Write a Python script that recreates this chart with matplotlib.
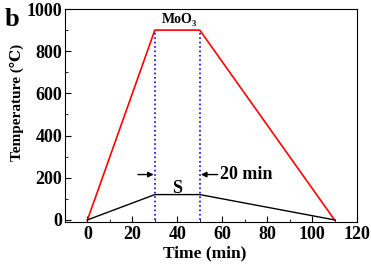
import numpy as np
import matplotlib.pyplot as plt
from matplotlib.ticker import MultipleLocator

plt.rcParams['font.family'] = ['Liberation Serif', 'DejaVu Serif']
plt.rcParams['font.weight'] = 'bold'

# profiles
time_moo3 = [0, 30, 50, 110]
temp_moo3 = [0, 900, 900, 0]
time_s = [0, 30, 50, 110]
temp_s = [0, 120, 120, 0]
hold_start, hold_end = 30, 50
hold_top = 900

fig = plt.figure(figsize=(3.71, 2.65), dpi=100)
ax = fig.add_axes([65/371, 1 - 222/265, (357-65)/371, (222-9)/265])

ax.plot(time_moo3, temp_moo3, color='red', lw=1.2)
ax.plot(time_s, temp_s, color='black', lw=1.0)
ax.plot([hold_start, hold_start], [0, hold_top], color='blue', ls=':', lw=1.2)
ax.plot([hold_end, hold_end], [0, hold_top], color='blue', ls=':', lw=1.2)

arrow = dict(arrowstyle='-|>', color='black', lw=1, mutation_scale=8,
             shrinkA=0, shrinkB=0)
ax.annotate('', xy=(hold_start - 0.5, 215), xytext=(22.5, 215), arrowprops=arrow)
ax.annotate('', xy=(hold_end + 0.5, 215), xytext=(58, 215), arrowprops=arrow)
ax.text(59, 215, '20 min', fontsize=13, fontweight='bold', va='center', ha='left')
ax.text(40, 150, 'S', fontsize=13, fontweight='bold', ha='center', va='center')
ax.text(40, 918, 'MoO', fontsize=10, fontweight='bold', ha='center', va='bottom')
ax.text(46.3, 912, '3', fontsize=6, fontweight='bold', ha='left', va='bottom')

ax.set_xlim(-10, 120)
ax.set_ylim(-10, 1000)
ax.xaxis.set_major_locator(MultipleLocator(20))
ax.xaxis.set_minor_locator(MultipleLocator(10))
ax.yaxis.set_major_locator(MultipleLocator(200))
ax.yaxis.set_minor_locator(MultipleLocator(100))
ax.tick_params(which='both', direction='in', top=False, right=False, labelsize=13)
ax.tick_params(which='major', length=4, pad=3)
ax.tick_params(which='minor', length=2)
ax.tick_params(axis='y', pad=2)
for lab in ax.get_xticklabels() + ax.get_yticklabels():
    lab.set_fontweight('bold')

ax.set_xlabel('Time (min)', fontsize=12.5, fontweight='bold')
ax.set_ylabel('Temperature (\u2103)', fontsize=11, fontweight='bold')
ax.xaxis.set_label_coords(0.48, -0.108)
ax.yaxis.set_label_coords(-0.142, 0.559)

fig.text(5/371, 1 - 26/265, 'b', fontsize=19, fontweight='bold', va='baseline')

fig.savefig('out.png', dpi=100)
